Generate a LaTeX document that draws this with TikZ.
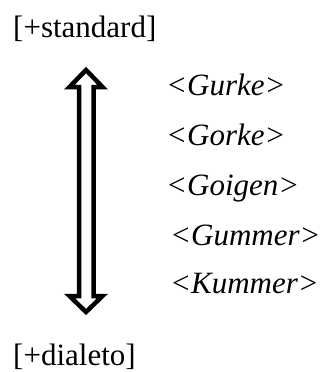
\documentclass[tikz,border=0pt]{standalone}
\usepackage{fontspec}
\setmainfont{Liberation Serif}
\begin{document}
\begin{tikzpicture}[x=1pt,y=1pt,
  lbl/.style={anchor=base west,inner sep=0pt,font=\fontsize{31}{36}\selectfont},
  word/.style={lbl,font=\fontsize{31}{36}\selectfont\itshape},
  dblarrow/.style={draw=black,line width=4.5pt,fill=white,line join=miter}]
\useasboundingbox (0,0) rectangle (322,-372);
\node[lbl] (top) at (13,-37) {[+standard]};
\node[lbl] (bot) at (13,-365) {[+dialeto]};
\node[word] (w1) at (166,-95) {<Gurke>};
\node[word] (w2) at (166,-145) {<Gorke>};
\node[word] (w3) at (166,-195) {<Goigen>};
\node[word] (w4) at (170,-245) {<Gummer>};
\node[word] (w5) at (170,-293) {<Kummer>};
\draw[dblarrow] (86,-70) -- (69.5,-87) -- (79,-87) -- (79,-296) -- (69.5,-296)
  -- (86,-312) -- (102.5,-296) -- (93.5,-296) -- (93.5,-87) -- (102.5,-87) -- cycle;
\end{tikzpicture}
\end{document}
